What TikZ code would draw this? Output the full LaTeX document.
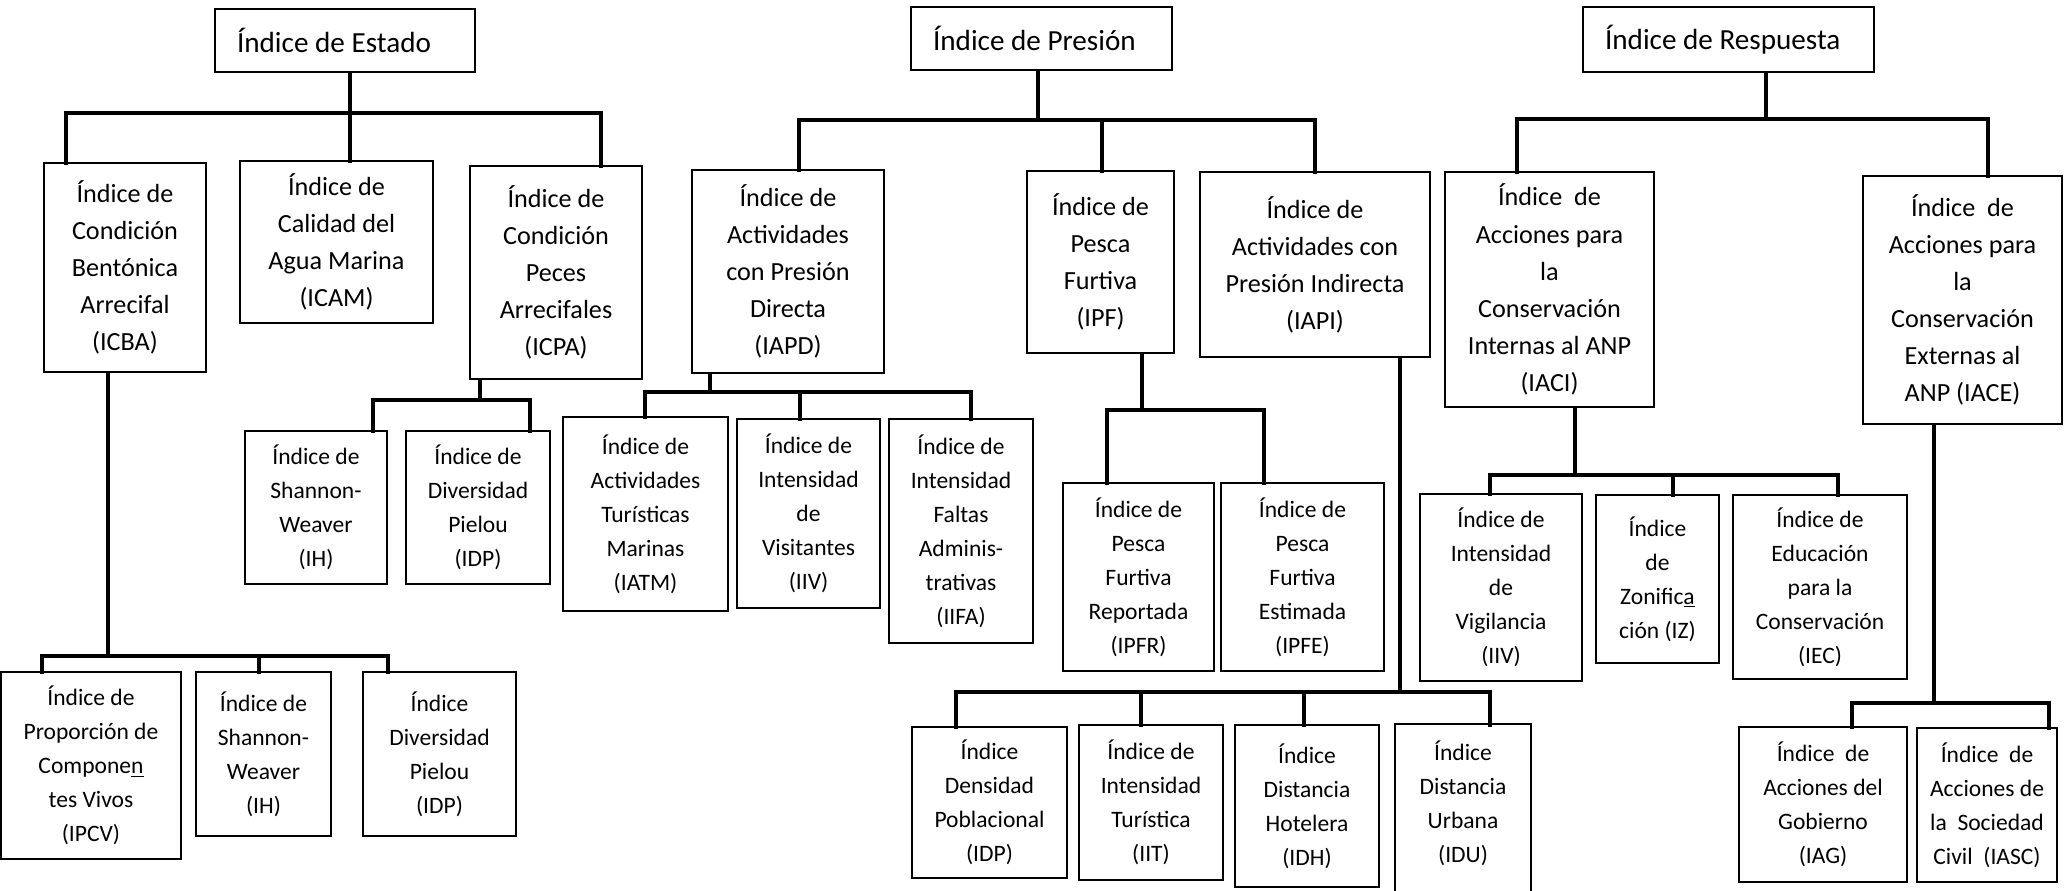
\documentclass[tikz,border=0pt]{standalone}
\usepackage{fontspec}
\setmainfont{Carlito}
\usetikzlibrary{calc}

\newlength{\upx}
\setlength{\upx}{0.02cm}
\newcommand{\recuadro}[7]{%
  \node[#2, minimum width={(#5-#3)*\upx}, minimum height={(#6-#4)*\upx}]
    (#1) at ({(#3+#5)/2},{(#4+#6)/2}) {#7};}

\tikzset{
  caja/.style={draw, line width=1.1pt, align=flush center, inner sep=2pt},
  cabeza/.style={caja, align=flush left, inner xsep=0.44cm, font=\fontsize{16.6}{20}\selectfont},
  medio/.style={caja, font=\fontsize{14.9}{21.1}\selectfont},
  bajo/.style={caja, font=\fontsize{13.4}{19.35}\selectfont},
  conector/.style={line width=2.8pt, line cap=rect}
}

\begin{document}
\begin{tikzpicture}[x=0.02cm, y=-0.02cm]
    \path[use as bounding box, fill=white] (0,0) rectangle (2072,890);

    % indices principales
    \recuadro{estado}{cabeza, text width=4.32cm}{215}{9}{475}{72}{Índice de Estado}
    \recuadro{presion}{cabeza, text width=4.34cm}{911}{7}{1172}{70}{Índice de Presión}
    \recuadro{respuesta}{cabeza, text width=4.94cm}{1583}{7}{1874}{72}{Índice de Respuesta}

    % segundo nivel
    \recuadro{icba}{medio}{44}{163}{206}{372}{Índice de\\Condición\\Bentónica\\Arrecifal\\(ICBA)}
    \recuadro{icam}{medio}{240}{161}{433}{323}{Índice de\\Calidad del\\Agua Marina\\(ICAM)}
    \recuadro{icpa}{medio}{470}{166}{642}{379}{Índice de\\Condición\\Peces\\Arrecifales\\(ICPA)}
    \recuadro{iapd}{medio}{692}{170}{884}{373}{Índice de\\Actividades\\con Presión\\Directa\\(IAPD)}
    \recuadro{ipf}{medio}{1027}{171}{1174}{353}{Índice de\\Pesca\\Furtiva\\(IPF)}
    \recuadro{iapi}{medio}{1200}{172}{1430}{357}{Índice de\\Actividades con\\Presión Indirecta\\(IAPI)}
    \recuadro{iaci}{medio}{1445}{172}{1654}{407}{Índice\ \ de\\Acciones para\\la\\Conservación\\Internas al ANP\\(IACI)}
    \recuadro{iace}{medio}{1863}{176}{2062}{424}{Índice\ \ de\\Acciones para\\la\\Conservación\\Externas al\\ANP (IACE)}

    % tercer nivel
    \recuadro{ih}{bajo}{245}{431}{387}{584}{Índice de\\Shannon-\\Weaver\\(IH)}
    \recuadro{idp}{bajo}{406}{431}{550}{584}{Índice de\\Diversidad\\Pielou\\(IDP)}
    \recuadro{iatm}{bajo}{563}{417}{728}{611}{Índice de\\Actividades\\Turísticas\\Marinas\\(IATM)}
    \recuadro{iiv}{bajo}{737}{419}{880}{608}{Índice de\\Intensidad\\de\\Visitantes\\(IIV)}
    \recuadro{iifa}{bajo}{889}{419}{1033}{643}{Índice de\\Intensidad\\Faltas\\Adminis-\\trativas\\(IIFA)}
    \recuadro{ipfr}{bajo}{1063}{483}{1214}{671}{Índice de\\Pesca\\Furtiva\\Reportada\\(IPFR)}
    \recuadro{ipfe}{bajo}{1221}{483}{1384}{671}{Índice de\\Pesca\\Furtiva\\Estimada\\(IPFE)}
    \recuadro{iivg}{bajo}{1420}{494}{1582}{681}{Índice de\\Intensidad\\de\\Vigilancia\\(IIV)}
    \recuadro{iz}{bajo}{1596}{495}{1719}{663}{Índice\\de\\Zonific\underline{a}\\ción (IZ)}
    \recuadro{iec}{bajo}{1733}{495}{1907}{679}{Índice de\\Educación\\para la\\Conservación\\(IEC)}

    % cuarto nivel
    \recuadro{ipcv}{bajo}{1}{672}{181}{859}{Índice de\\Proporción de\\Compone\underline{n}\\tes Vivos\\(IPCV)}
    \recuadro{ihb}{bajo}{196}{672}{331}{836}{Índice de\\Shannon-\\Weaver\\(IH)}
    \recuadro{idpb}{bajo}{363}{672}{516}{836}{Índice\\Diversidad\\Pielou\\(IDP)}
    \recuadro{idpo}{bajo}{912}{727}{1067}{878}{Índice\\Densidad\\Poblacional\\(IDP)}
    \recuadro{iit}{bajo}{1079}{725}{1223}{880}{Índice de\\Intensidad\\Turística\\(IIT)}
    \recuadro{idh}{bajo}{1235}{725}{1379}{887}{Índice\\Distancia\\Hotelera\\(IDH)}
    \recuadro{idu}{bajo, draw=none}{1396}{725}{1530}{881}{Índice\\Distancia\\Urbana\\(IDU)}
    \draw[line width=1.1pt] ([yshift=-0.4cm]idu.south west) -- (idu.north west)
        -- (idu.north east) -- ([yshift=-0.4cm]idu.south east);
    \recuadro{iag}{bajo}{1739}{727}{1907}{882}{Índice\ \ de\\Acciones del\\Gobierno\\(IAG)}
    \recuadro{iasc}{bajo}{1917}{728}{2057}{882}{Índice\ \ de\\Acciones de\\la\ \ Sociedad\\Civil\ \ (IASC)}

    % Estado
    \coordinate (e0) at (350,113);
    \coordinate (e1) at (66,113);
    \coordinate (e2) at (601,113);
    \draw[conector] (estado.south -| e0) -- (e0);
    \draw[conector] (e1) -- (e2);
    \draw[conector] (e1) -- (e1 |- icba.north);
    \draw[conector] (e0) -- (e0 |- icam.north);
    \draw[conector] (e2) -- (e2 |- icpa.north);

    % ICBA
    \coordinate (c0) at (108,656);
    \coordinate (c1) at (42,656);
    \coordinate (c2) at (259,656);
    \coordinate (c3) at (388,656);
    \draw[conector] (icba.south -| c0) -- (c0);
    \draw[conector] (c1) -- (c3);
    \draw[conector] (c1) -- (c1 |- ipcv.north);
    \draw[conector] (c2) -- (c2 |- ihb.north);
    \draw[conector] (c3) -- (c3 |- idpb.north);

    % ICPA
    \coordinate (p0) at (480,400);
    \coordinate (p1) at (373,400);
    \coordinate (p2) at (530,400);
    \draw[conector] (icpa.south -| p0) -- (p0);
    \draw[conector] (p1) -- (p2);
    \draw[conector] (p1) -- (p1 |- ih.north);
    \draw[conector] (p2) -- (p2 |- idp.north);

    % Presion
    \coordinate (r0) at (1038,120);
    \coordinate (r1) at (799,120);
    \coordinate (r2) at (1102,120);
    \coordinate (r3) at (1315,120);
    \draw[conector] (presion.south -| r0) -- (r0);
    \draw[conector] (r1) -- (r3);
    \draw[conector] (r1) -- (r1 |- iapd.north);
    \draw[conector] (r2) -- (r2 |- ipf.north);
    \draw[conector] (r3) -- (r3 |- iapi.north);

    % IAPD
    \coordinate (d0) at (710,392);
    \coordinate (d1) at (645,392);
    \coordinate (d2) at (800,392);
    \coordinate (d3) at (971,392);
    \draw[conector] (iapd.south -| d0) -- (d0);
    \draw[conector] (d1) -- (d3);
    \draw[conector] (d1) -- (d1 |- iatm.north);
    \draw[conector] (d2) -- (d2 |- iiv.north);
    \draw[conector] (d3) -- (d3 |- iifa.north);

    % IPF
    \coordinate (f0) at (1142,410);
    \coordinate (f1) at (1107,410);
    \coordinate (f2) at (1264,410);
    \draw[conector] (ipf.south -| f0) -- (f0);
    \draw[conector] (f1) -- (f2);
    \draw[conector] (f1) -- (f1 |- ipfr.north);
    \draw[conector] (f2) -- (f2 |- ipfe.north);

    % IAPI
    \coordinate (g0) at (1400,692);
    \coordinate (g1) at (956,692);
    \coordinate (g2) at (1141,692);
    \coordinate (g3) at (1304,692);
    \coordinate (g4) at (1490,692);
    \draw[conector] (iapi.south -| g0) -- (g0);
    \draw[conector] (g1) -- (g4);
    \draw[conector] (g1) -- (g1 |- idpo.north);
    \draw[conector] (g2) -- (g2 |- iit.north);
    \draw[conector] (g3) -- (g3 |- idh.north);
    \draw[conector] (g4) -- (g4 |- idu.north);

    % Respuesta
    \coordinate (s0) at (1766,119);
    \coordinate (s1) at (1517,119);
    \coordinate (s2) at (1988,119);
    \draw[conector] (respuesta.south -| s0) -- (s0);
    \draw[conector] (s1) -- (s2);
    \draw[conector] (s1) -- (s1 |- iaci.north);
    \draw[conector] (s2) -- (s2 |- iace.north);

    % IACI
    \coordinate (t0) at (1575,475);
    \coordinate (t1) at (1490,475);
    \coordinate (t2) at (1673,475);
    \coordinate (t3) at (1838,475);
    \draw[conector] (iaci.south -| t0) -- (t0);
    \draw[conector] (t1) -- (t3);
    \draw[conector] (t1) -- (t1 |- iivg.north);
    \draw[conector] (t2) -- (t2 |- iz.north);
    \draw[conector] (t3) -- (t3 |- iec.north);

    % IACE
    \coordinate (u0) at (1934,703);
    \coordinate (u1) at (1852,703);
    \coordinate (u2) at (2049,703);
    \draw[conector] (iace.south -| u0) -- (u0);
    \draw[conector] (u1) -- (u2);
    \draw[conector] (u1) -- (u1 |- iag.north);
    \draw[conector] (u2) -- (u2 |- iasc.north);
\end{tikzpicture}
\end{document}
